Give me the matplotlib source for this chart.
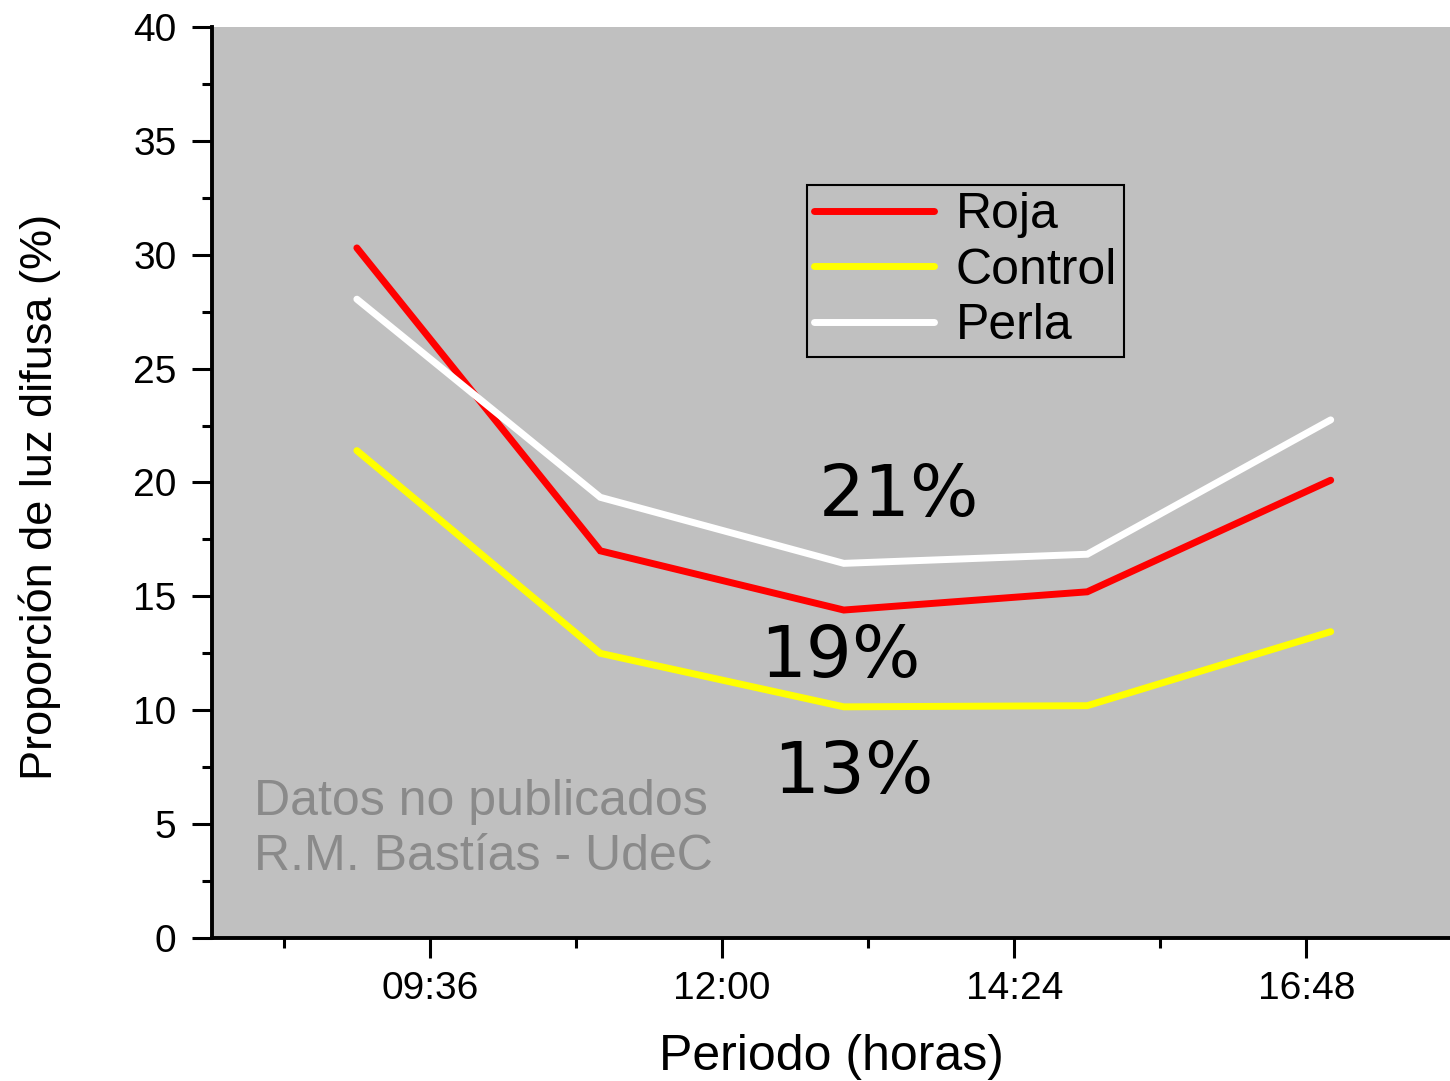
import matplotlib
matplotlib.use("Agg")
import matplotlib.pyplot as plt
from matplotlib.ticker import FixedLocator

plt.rcParams['font.family'] = ['Liberation Sans', 'DejaVu Sans']

# hours of the day for each measurement
horas = [9, 11, 13, 15, 17]
roja = [30.3, 17.0, 14.4, 15.2, 20.1]
control = [21.4, 12.5, 10.15, 10.2, 13.45]
perla = [28.05, 19.35, 16.45, 16.85, 22.75]

series_names = ["Roja", "Control", "Perla"]
series_colors = ["#ff0000", "#ffff00", "#ffffff"]

x_ticks = [9.6, 12.0, 14.4, 16.8]
x_ticklabels = ["09:36", "12:00", "14:24", "16:48"]
x_minor = [8.4, 10.8, 13.2, 15.6]

# percentages written over the lines
pct_labels = ["21%", "19%", "13%"]
pct_x = [13.45, 12.97, 13.08]
pct_y = [18.52, 11.46, 6.37]

fig = plt.figure(figsize=(14.5, 10.81), dpi=100)
ax = fig.add_axes([212/1450, 143/1081, 1 - 212/1450, 911/1081])
ax.set_facecolor("#c0c0c0")

for vals, name, col in zip([roja, control, perla], series_names, series_colors):
    ax.plot(horas, vals, color=col, lw=5, label=name, solid_capstyle='round',
            solid_joinstyle='miter')

ax.set_xlim(7.81, 17.98)
ax.set_ylim(0, 40)

ax.set_yticks(range(0, 41, 5))
ax.yaxis.set_minor_locator(FixedLocator([2.5 + 5 * i for i in range(8)]))
ax.set_xticks(x_ticks)
ax.set_xticklabels(x_ticklabels)
ax.xaxis.set_minor_locator(FixedLocator(x_minor))

ax.tick_params(which='major', length=14.5, width=2.2, labelsize=28, direction='out')
ax.tick_params(which='minor', length=7, width=2.2, direction='out')
ax.tick_params(axis='x', pad=9)
ax.tick_params(axis='y', pad=11)

for side in ['top', 'right']:
    ax.spines[side].set_visible(False)
for side in ['left', 'bottom']:
    ax.spines[side].set_linewidth(2.8)

ax.set_ylabel("Proporción de luz difusa (%)", fontsize=32.5)
ax.yaxis.set_label_coords(-0.139, 0.484)
ax.yaxis.label.set_va('center')

ax.set_xlabel("Periodo (horas)", fontsize=36)
ax.xaxis.set_label_coords(0.5, -0.1449)
ax.xaxis.label.set_va('baseline')

leg = ax.legend(loc='upper left', bbox_to_anchor=(0.4806, 0.8266), borderaxespad=0,
                fontsize=36, frameon=True, fancybox=False, framealpha=1,
                facecolor="#c0c0c0", edgecolor="black", handlelength=2.4,
                handletextpad=0.42, labelspacing=0.19, borderpad=0.15)
leg.get_frame().set_linewidth(1.5)

ax.text(0.0343, 0.135, "Datos no publicados", transform=ax.transAxes,
        fontsize=36, color="#8a8a8a", va='baseline')
ax.text(0.0343, 0.0746, "R.M. Bastías - UdeC", transform=ax.transAxes,
        fontsize=36, color="#8a8a8a", va='baseline')

for lab, px, py in zip(pct_labels, pct_x, pct_y):
    ax.text(px, py, lab, fontsize=52, ha='center', va='baseline',
            family=['DejaVu Sans'], color='black')

fig.savefig("out.png", dpi=100, facecolor='white')
